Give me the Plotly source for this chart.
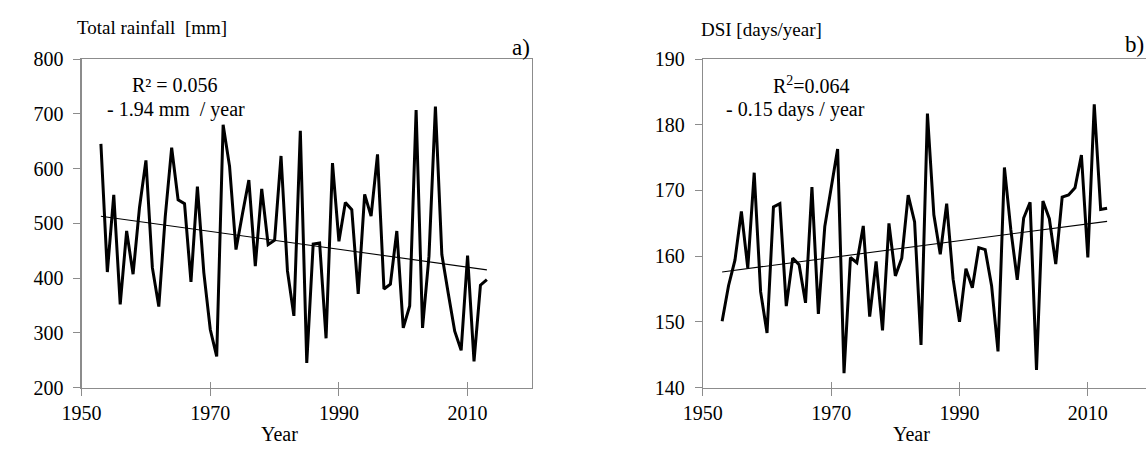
import plotly.graph_objects as go

years = list(range(1953, 2014))

rainfall = [645, 411, 552, 352, 486, 407, 529, 615, 419, 348,
            512, 638, 543, 536, 393, 567, 410, 306, 257, 680,
            604, 452, 517, 579, 422, 563, 461, 469, 623, 413,
            331, 669, 245, 462, 464, 290, 610, 467, 538, 525,
            371, 553, 513, 626, 380, 389, 486, 309, 349, 707,
            309, 440, 713, 443, 372, 303, 268, 441, 248, 387, 397]

dsi = [150.1, 155.5, 159.4, 166.8, 158.2, 172.7, 154.6, 148.3, 167.5, 168.0,
       152.4, 159.7, 158.7, 152.9, 170.5, 151.2, 164.5, 170.1, 176.3, 142.2,
       159.8, 159.0, 164.6, 150.8, 159.2, 148.7, 165.0, 157.0, 159.7, 169.3,
       165.2, 146.5, 181.7, 166.3, 160.3, 168.0, 156.5, 150.0, 158.1, 155.2,
       161.3, 161.0, 155.5, 145.5, 173.5, 164.0, 156.4, 165.8, 168.2, 142.7,
       168.4, 165.7, 158.8, 169.0, 169.3, 170.4, 175.4, 159.8, 183.1, 167.1, 167.3]

trend_years = [1953, 2013]
rain_trend = [513, 415]
dsi_trend = [157.6, 165.3]

rain_ticks = [200, 300, 400, 500, 600, 700, 800]
dsi_ticks = [140, 150, 160, 170, 180, 190]
year_ticks = [1950, 1970, 1990, 2010]

W, H = 1146, 455
FONT = "Liberation Serif"
AX = "#8c8c8c"

def px(x):
    return x / W

def py(y):
    return 1 - y / H

fig = go.Figure()
fig.add_trace(go.Scatter(x=years, y=rainfall, mode="lines", hoverinfo="skip",
                         line=dict(color="black", width=3), xaxis="x", yaxis="y"))
fig.add_trace(go.Scatter(x=trend_years, y=rain_trend, mode="lines", hoverinfo="skip",
                         line=dict(color="black", width=1.1), xaxis="x", yaxis="y"))
fig.add_trace(go.Scatter(x=years, y=dsi, mode="lines", hoverinfo="skip",
                         line=dict(color="black", width=3), xaxis="x2", yaxis="y2"))
fig.add_trace(go.Scatter(x=trend_years, y=dsi_trend, mode="lines", hoverinfo="skip",
                         line=dict(color="black", width=1.1), xaxis="x2", yaxis="y2"))
# invisible helpers so the overlay tick axes (inner half of crossing ticks) are drawn
fig.add_trace(go.Scatter(x=trend_years, y=rain_trend, mode="lines", opacity=0,
                         hoverinfo="skip", xaxis="x3", yaxis="y"))
fig.add_trace(go.Scatter(x=trend_years, y=dsi_trend, mode="lines", opacity=0,
                         hoverinfo="skip", xaxis="x4", yaxis="y2"))

ydom = [py(395.7), py(50.5)]
xaxis_common = dict(tickvals=year_ticks, ticks="outside", ticklen=7, tickcolor=AX,
                    showline=True, linecolor=AX, linewidth=1.2, showgrid=False,
                    zeroline=False, tickfont=dict(family=FONT, size=20, color="black"))
yaxis_common = dict(ticks="outside", ticklen=7, tickcolor=AX, showline=True,
                    linecolor=AX, linewidth=1.2, showgrid=False, zeroline=False,
                    tickfont=dict(family=FONT, size=20, color="black"),
                    ticklabelstandoff=6)
inner_ticks = dict(tickvals=year_ticks, ticks="inside", ticklen=6, tickcolor=AX,
                   showticklabels=False, showline=False, showgrid=False,
                   zeroline=False)

fig.update_layout(
    width=W, height=H, margin=dict(l=0, r=0, t=0, b=0),
    paper_bgcolor="white", plot_bgcolor="white", showlegend=False,
    hovermode=False, dragmode=False,
    xaxis=dict(domain=[px(62.7), px(521)], range=[1950, 2020], mirror=True,
               anchor="y", **xaxis_common),
    yaxis=dict(domain=ydom, range=[200, 800], tickvals=rain_ticks, mirror=True,
               anchor="x", **yaxis_common),
    xaxis2=dict(domain=[px(695), 1.0], range=[1950, 1950 + (W - 695) / 6.53],
                mirror=True, anchor="y2", **xaxis_common),
    yaxis2=dict(domain=ydom, range=[140, 190], tickvals=dsi_ticks, mirror=False,
                anchor="x2", **yaxis_common),
    xaxis3=dict(domain=[px(62.7), px(521)], range=[1950, 2020], anchor="y",
                overlaying="x", **inner_ticks),
    xaxis4=dict(domain=[px(695), 1.0], range=[1950, 1950 + (W - 695) / 6.53],
                anchor="y2", overlaying="x2", **inner_ticks),
)

def note(text, x, y, xanchor="left", size=20):
    fig.add_annotation(text=text, x=px(x), y=py(y), xref="paper", yref="paper",
                       xanchor=xanchor, yanchor="middle", showarrow=False,
                       font=dict(family=FONT, size=size, color="black"))

note("Total rainfall  [mm]", 56, 17, size=19)
note("a)", 521, 38, xanchor="right", size=23)
note("R² = 0.056", 112, 78)
note("- 1.94 mm  / year", 87, 103)
note("Year", 264, 445, xanchor="center")

note("DSI [days/year]", 691, 19, size=19)
note("b)", 1146, 35, xanchor="right", size=23)
note("R<sup>2</sup>=0.064", 764, 78)
note("- 0.15 days / year", 716, 103)
note("Year", 907, 445, xanchor="center")

fig.write_html("out.html", config={"displayModeBar": False, "staticPlot": True},
               post_script="document.body.style.margin='0';document.body.style.overflow='hidden';")
